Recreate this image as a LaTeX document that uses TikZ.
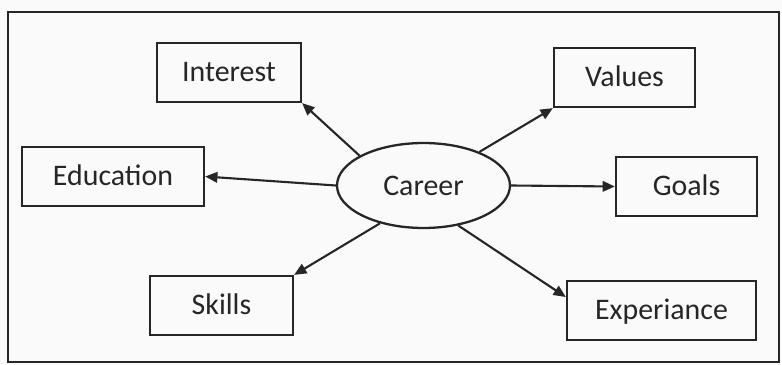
\documentclass[tikz,border=0pt]{standalone}
\usepackage{fontspec}
\setmainfont{Carlito}
\usetikzlibrary{arrows.meta,shapes.geometric}

\begin{document}
\begin{tikzpicture}[
x=0.02cm, y=-0.02cm,
every node/.style={font=\fontsize{17}{20}\selectfont, text=black!85},
factor/.style={draw=black!85, line width=1.3pt, inner sep=0pt, text depth=1pt, minimum height=1.18cm},
core/.style={draw=black!85, ellipse, line width=1.3pt, inner sep=0pt, minimum width=3.46cm, minimum height=1.7cm},
arrow/.style={-{Triangle[length=7pt,width=6pt]}, line width=1.2pt, draw=black!85}
]

% page and outer frame
\fill[black!2] (0,0) rectangle (782,365);
\useasboundingbox (0,0) rectangle (782,365);
\draw[line width=1.3pt, black!85] (8,12) rectangle (779,362);

% centre
\node[core] (career) at (423.5,185.5) {Career};

% left side
\node[factor, minimum width=2.88cm] (interest) at (229,72.5) {Interest};
\node[factor, minimum width=3.64cm] (education) at (113,176.5) {Education};
\node[factor, minimum width=2.86cm] (skills) at (221.5,305.5) {Skills};

% right side
\node[factor, minimum width=2.82cm] (values) at (624.5,77.5) {Values};
\node[factor, minimum width=2.82cm] (goals) at (686.5,186.5) {Goals};
\node[factor, minimum width=3.78cm] (experiance) at (661.5,310.5) {Experiance};

% arrows from Career
\draw[arrow] (career.155) -- (interest.south east);
\draw[arrow] (career.west) -- (education.east);
\draw[arrow] (career.221) -- (skills.north east);
\draw[arrow] (career.31) -- (values.south west);
\draw[arrow] (career.east) -- (goals.west);
\draw[arrow] (career.311) -- (experiance.172);

\end{tikzpicture}
\end{document}
